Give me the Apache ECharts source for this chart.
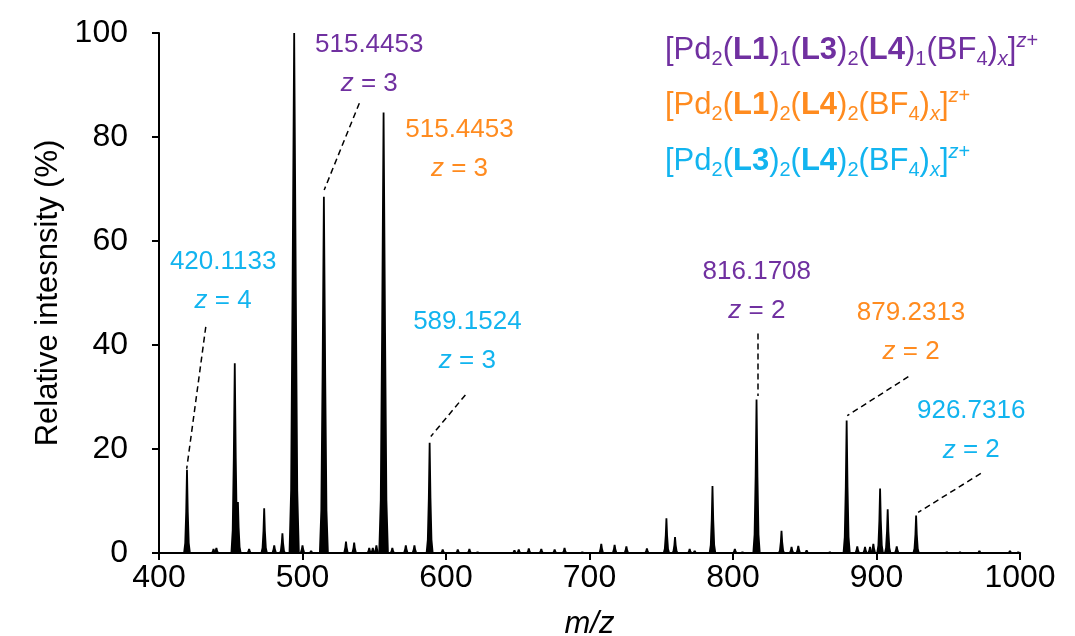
<!DOCTYPE html>
<html>
<head>
<meta charset="utf-8">
<script src="https://cdn.jsdelivr.net/npm/echarts@6/dist/echarts.min.js"></script>
<style>
  html, body { margin: 0; padding: 0; background: #fff; }
  #main { width: 1075px; height: 636px; }
</style>
</head>
<body>
<div id="main"></div>
<script>
// peaks (m/z, relative intensity %)
var peakMz = [419.5, 438, 440, 452.8, 455, 462.8, 473.3, 480.3, 486, 494.2, 500, 506,
  514.9, 530.3, 536, 546.5, 549, 551.5, 556.5, 562.6, 572, 578, 588.6, 597.7,
  608.2, 616.3, 622, 647.7, 650.7, 657.7, 666.4, 675.7, 682.6, 695, 708.2, 717.5,
  725.7, 740, 753.6, 759.6, 769.8, 773.3, 785.7, 801.3, 806.6, 816.4, 833.8, 840.8,
  845.5, 851.3, 867.5, 879.2, 886.6, 892, 895.5, 897.8, 902.5, 907.8, 914.1, 927.6,
  949, 958.2, 971.7, 993, 998.8];
var peakInt = [16, 0.8, 1, 36.5, 9.8, 0.8, 8.6, 1.5, 3.8, 100, 1.5, 0.5,
  68.5, 2.2, 2, 1, 1, 1.5, 84.7, 1, 1.5, 1.5, 21.2, 0.7,
  0.7, 0.8, 0.3, 0.6, 0.7, 0.9, 0.8, 0.7, 1, 0.3, 1.8, 1.6,
  1.3, 0.9, 6.7, 3.1, 0.8, 0.5, 12.9, 0.8, 0.3, 29.5, 4.3, 1.2,
  1.4, 0.6, 0.3, 25.5, 1.3, 1.2, 1.2, 1.8, 12.4, 8.4, 1.3, 7.2,
  0.3, 0.3, 0.5, 0.5, 0.3];

var xTicks = [400, 500, 600, 700, 800, 900, 1000];
var yTicks = [0, 20, 40, 60, 80, 100];

// peak annotations
var noteText = ["420.1133", "515.4453", "515.4453", "589.1524", "816.1708", "879.2313", "926.7316"];
var noteZ = [4, 3, 3, 3, 2, 2, 2];
var noteKind = ["c", "p", "o", "c", "p", "o", "c"];

var colors = { p: "#7030a0", o: "#ff8b1f", c: "#12b4ef" };

// label centres and leader lines, in data units
var notePos = [[444.7, 52.3], [546.5, 93.9], [609.4, 77.7], [614.9, 40.8], [816.6, 50.4], [924.1, 42.5], [966, 23.5]];
var leaders = [
  [[432.6, 43.5], [419.3, 16.2]],
  [[539.6, 86.5], [515.1, 69.8]],
  [[613.5, 30.4], [589.4, 22.4]],
  [[817.4, 42.2], [817.4, 30.2]],
  [[922.2, 33.9], [879.6, 26.4]],
  [[972.7, 15.3], [929.0, 7.8]]
];

var FONT = "Liberation Sans";

var peakData = [];
for (var i = 0; i < peakMz.length; i++) {
  peakData.push([peakMz[i], peakInt[i]]);
}

var noteData = [];
for (var j = 0; j < noteText.length; j++) {
  var col = colors[noteKind[j]];
  noteData.push({
    value: notePos[j],
    label: {
      formatter: "{n|" + noteText[j] + "}\n{i|z}{n| = " + noteZ[j] + "}",
      rich: {
        n: { color: col, fontSize: 26, lineHeight: 39, fontFamily: FONT },
        i: { color: col, fontSize: 26, lineHeight: 39, fontFamily: FONT, fontStyle: "italic" }
      }
    }
  });
}

var leaderData = [];
for (var k = 0; k < leaders.length; k++) {
  leaderData.push([{ coord: leaders[k][0] }, { coord: leaders[k][1] }]);
}

function legendRich() {
  return {
    n: { fontSize: 31, lineHeight: 38, fontFamily: FONT },
    b: { fontSize: 31, lineHeight: 38, fontFamily: FONT, fontWeight: "bold" },
    s: { fontSize: 20, lineHeight: 20, fontFamily: FONT, verticalAlign: "bottom" },
    si: { fontSize: 20, lineHeight: 20, fontFamily: FONT, fontStyle: "italic", verticalAlign: "bottom" },
    p: { fontSize: 20, lineHeight: 20, fontFamily: FONT, verticalAlign: "top" },
    pi: { fontSize: 20, lineHeight: 20, fontFamily: FONT, fontStyle: "italic", verticalAlign: "top" }
  };
}

var legendLines = [
  { kind: "p", text: "{n|[Pd}{s|2}{n|(}{b|L1}{n|)}{s|1}{n|(}{b|L3}{n|)}{s|2}{n|(}{b|L4}{n|)}{s|1}{n|(BF}{s|4}{n|)}{si|x}{n|]}{pi|z}{p|+}" },
  { kind: "o", text: "{n|[Pd}{s|2}{n|(}{b|L1}{n|)}{s|2}{n|(}{b|L4}{n|)}{s|2}{n|(BF}{s|4}{n|)}{si|x}{n|]}{pi|z}{p|+}" },
  { kind: "c", text: "{n|[Pd}{s|2}{n|(}{b|L3}{n|)}{s|2}{n|(}{b|L4}{n|)}{s|2}{n|(BF}{s|4}{n|)}{si|x}{n|]}{pi|z}{p|+}" }
];
var legendTops = [31, 86, 142];
var graphics = [];
for (var g = 0; g < legendLines.length; g++) {
  graphics.push({
    type: "text",
    left: 665,
    top: legendTops[g],
    silent: true,
    style: {
      text: legendLines[g].text,
      fill: colors[legendLines[g].kind],
      rich: legendRich()
    }
  });
}

var myChart = echarts.init(document.getElementById("main"));
var option = {
  animation: false,
  textStyle: { fontFamily: FONT },
  grid: { left: 159, right: 55, top: 33, bottom: 83, containLabel: false, outerBoundsMode: "none" },
  xAxis: {
    type: "value",
    min: xTicks[0],
    max: xTicks[xTicks.length - 1],
    interval: xTicks[1] - xTicks[0],
    name: "m/z",
    nameLocation: "middle",
    nameGap: 56,
    nameTextStyle: { color: "#000", fontSize: 31, fontStyle: "italic", fontFamily: FONT },
    axisLine: { lineStyle: { color: "#000", width: 2 } },
    axisTick: { length: 7, lineStyle: { color: "#000", width: 2 } },
    axisLabel: {
      color: "#000",
      fontSize: 32,
      margin: 9,
      fontFamily: FONT,
      formatter: function(v) {
        return String(v);
      }
    },
    splitLine: { show: false }
  },
  yAxis: {
    type: "value",
    min: yTicks[0],
    max: yTicks[yTicks.length - 1],
    interval: yTicks[1] - yTicks[0],
    name: "Relative intesnsity (%)",
    nameLocation: "middle",
    nameGap: 77,
    nameTextStyle: { color: "#000", fontSize: 31, fontFamily: FONT },
    axisLine: { show: true, lineStyle: { color: "#000", width: 2 } },
    axisTick: { show: true, length: 7, lineStyle: { color: "#000", width: 2 } },
    axisLabel: { color: "#000", fontSize: 32, margin: 31, fontFamily: FONT },
    splitLine: { show: false }
  },
  series: [
    {
      type: "custom",
      name: "spectrum",
      silent: true,
      data: peakData,
      renderItem: function(params, api) {
        var top = api.coord([api.value(0), api.value(1)]);
        var base = api.coord([api.value(0), 0]);
        var x = top[0],
          y0 = base[1],
          h = y0 - top[1];
        var wb = 3.5 + h * 0.004,
          wl = 2.4 + h * 0.003,
          wm = 1.5 + h * 0.002,
          wt = 0.9;
        return {
          type: "polygon",
          shape: {
            points: [
              [x - wb, y0],
              [x - wl, y0 - h * 0.12],
              [x - wm, y0 - h * 0.5],
              [x - wt, top[1]],
              [x + wt, top[1]],
              [x + wm, y0 - h * 0.5],
              [x + wl, y0 - h * 0.12],
              [x + wb, y0]
            ]
          },
          style: { fill: "#000" }
        };
      }
    },
    {
      type: "scatter",
      name: "notes",
      silent: true,
      symbolSize: 0,
      itemStyle: { opacity: 1 },
      data: noteData,
      label: { show: true, opacity: 1, position: "inside", align: "center", verticalAlign: "middle" },
      markLine: {
        silent: true,
        symbol: ["none", "none"],
        label: { show: false },
        lineStyle: { color: "#000", width: 1.5, type: [6, 4], opacity: 1 },
        data: leaderData
      }
    }
  ],
  graphic: graphics
};
myChart.setOption(option);
</script>
</body>
</html>
